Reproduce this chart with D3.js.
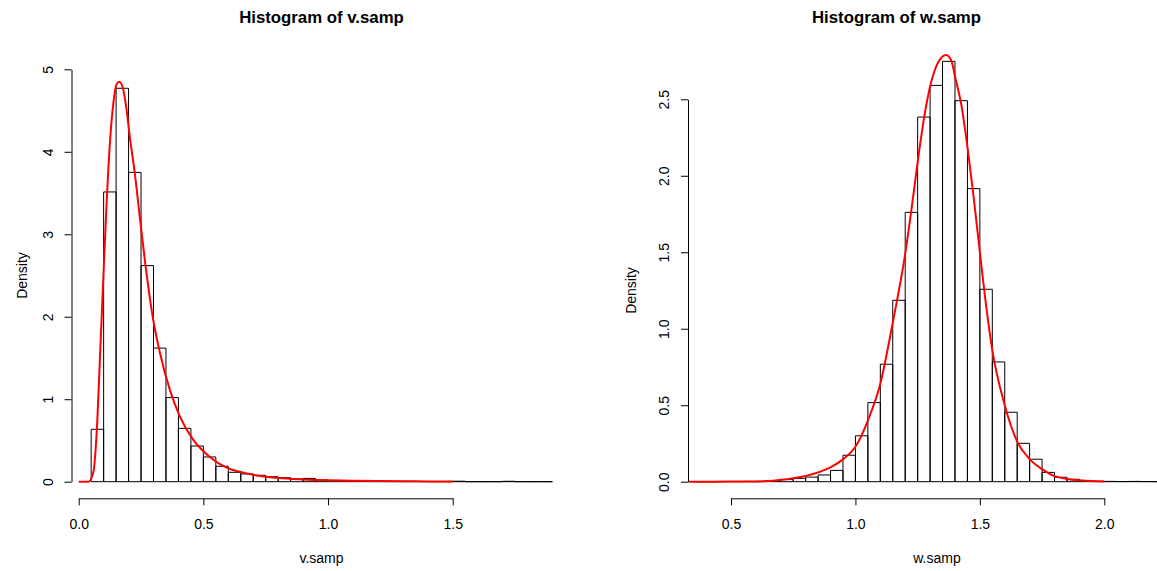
<!DOCTYPE html>
<html>
<head>
<meta charset="utf-8">
<script src="https://cdn.jsdelivr.net/npm/d3@7/dist/d3.min.js"></script>
<style>
  body { margin: 0; background: #fff; }
  svg text { font-family: "Liberation Sans", Arial, Helvetica, sans-serif; fill: #000; }
</style>
</head>
<body>
<svg id="chart" width="1157" height="571"></svg>
<script>
// ---------- data: v.samp ----------
const vBreaks = [0.05,0.10,0.15,0.20,0.25,0.30,0.35,0.40,0.45,0.50,0.55,0.60,0.65,0.70,0.75,0.80,0.85,0.90,0.95,1.00,
                 1.05,1.10,1.15,1.20,1.25,1.30,1.35,1.40,1.45,1.50,1.55,1.60,1.65,1.70,1.75,1.80,1.85,1.90];
const vDensity = [0.635,3.513,4.77,3.75,2.62,1.62,1.02,0.647,0.433,0.30,0.187,0.114,0.094,0.078,0.06,0.049,0.033,0.040,0.02,0.015,
                  0.012,0.010,0.008,0.006,0.005,0.004,0.003,0.002,0.002,0.006,0,0,0,0.005,0,0,0];
const vCurveX = [0,0.04,0.059,0.072,0.085,0.099,0.112,0.125,0.139,0.152,0.163,0.179,0.192,0.205,0.225,0.245,0.268,0.299,0.326,
                 0.366,0.406,0.459,0.526,0.593,0.66,0.727,0.8,0.9,1.0,1.1,1.2,1.3,1.4,1.5];
const vCurveY = [0,0,0.12,0.59,1.48,2.49,3.38,4.10,4.59,4.82,4.85,4.75,4.51,4.18,3.74,3.21,2.62,1.96,1.56,
                 1.11,0.79,0.51,0.30,0.17,0.11,0.07,0.045,0.028,0.018,0.012,0.008,0.005,0.003,0.002];
const vXTicks = [0.0,0.5,1.0,1.5];
const vXTickLabels = ["0.0","0.5","1.0","1.5"];
const vYTicks = [0,1,2,3,4,5];
const vYTickLabels = ["0","1","2","3","4","5"];

// ---------- data: w.samp ----------
const wBreaks = [0.35,0.40,0.45,0.50,0.55,0.60,0.65,0.70,0.75,0.80,0.85,0.90,0.95,1.00,1.05,1.10,1.15,1.20,1.25,1.30,
                 1.35,1.40,1.45,1.50,1.55,1.60,1.65,1.70,1.75,1.80,1.85,1.90,1.95,2.00,2.05,2.10,2.15,2.20,2.25,2.30];
const wDensity = [0,0,0.001,0.001,0.002,0.003,0.006,0.014,0.022,0.030,0.044,0.074,0.173,0.300,0.517,0.768,1.186,1.761,2.384,2.591,
                  2.748,2.491,1.916,1.258,0.783,0.454,0.251,0.147,0.061,0.029,0.016,0.006,0.003,0.002,0.001,0.002,0.001,0,0];
const wCurveX = [0.33,0.5,0.6,0.67,0.75,0.85,0.90,0.95,1.00,1.05,1.10,1.15,1.20,1.226,1.25,1.279,1.301,1.326,1.35,1.365,1.386,
                 1.40,1.426,1.45,1.475,1.50,1.526,1.55,1.60,1.65,1.70,1.75,1.80,1.85,1.90,1.95,2.0];
const wCurveY = [0,0.0005,0.002,0.007,0.022,0.061,0.094,0.146,0.229,0.40,0.64,1.04,1.49,1.79,2.09,2.41,2.59,2.72,2.78,2.79,2.75,
                 2.65,2.46,2.19,1.86,1.50,1.14,0.86,0.50,0.262,0.148,0.082,0.036,0.018,0.009,0.004,0.002];
const wXTicks = [0.5,1.0,1.5,2.0];
const wXTickLabels = ["0.5","1.0","1.5","2.0"];
const wYTicks = [0,0.5,1.0,1.5,2.0,2.5];
const wYTickLabels = ["0.0","0.5","1.0","1.5","2.0","2.5"];

const svg = d3.select("#chart");

function drawPanel(o) {
  const x = d3.scaleLinear().domain(o.xDomain).range(o.xRange);
  const y = d3.scaleLinear().domain(o.yDomain).range(o.yRange);
  const g = svg.append("g");

  // bars (as closed paths so zero-height bins still draw their base line)
  const bins = o.density.map((d, i) => ({x0: o.breaks[i], x1: o.breaks[i + 1], d}));
  g.append("g").selectAll("path").data(bins).join("path")
    .attr("d", b => {
      const X0 = x(b.x0), X1 = x(b.x1), Y0 = y(0), Y1 = y(b.d);
      return `M${X0},${Y0}V${Y1}H${X1}V${Y0}Z`;
    })
    .attr("fill", "none")
    .attr("stroke", "#000")
    .attr("stroke-width", 1);

  // density curve
  const pts = o.curveX.map((cx, i) => [cx, o.curveY[i]]);
  g.append("path")
    .datum(pts)
    .attr("d", d3.line().x(p => x(p[0])).y(p => y(p[1])).curve(d3.curveMonotoneX))
    .attr("fill", "none")
    .attr("stroke", "#ff0000")
    .attr("stroke-width", 2);

  // x axis
  const xa = g.append("g")
    .attr("transform", `translate(0,${o.xAxisY})`)
    .call(d3.axisBottom(x).tickValues(o.xTicks).tickSize(7).tickSizeOuter(0)
      .tickFormat((d, i) => o.xTickLabels[i]));
  xa.select(".domain").attr("stroke", "#000");
  xa.selectAll(".tick line").attr("stroke", "#000");
  xa.selectAll(".tick text")
    .attr("y", 31).attr("dy", 0)
    .attr("font-size", 14)
    .attr("font-family", null);

  // y axis
  const ya = g.append("g")
    .attr("transform", `translate(${o.yAxisX},0)`)
    .call(d3.axisLeft(y).tickValues(o.yTicks).tickSize(7).tickSizeOuter(0)
      .tickFormat((d, i) => o.yTickLabels[i]));
  ya.select(".domain").attr("stroke", "#000");
  ya.selectAll(".tick line").attr("stroke", "#000");
  ya.selectAll(".tick text")
    .attr("x", 0).attr("dy", 0).attr("y", -19)
    .attr("transform", "rotate(-90)")
    .attr("text-anchor", "middle")
    .attr("font-size", 14)
    .attr("font-family", null);

  // title
  g.append("text")
    .attr("x", o.titleX).attr("y", 23)
    .attr("text-anchor", "middle")
    .attr("font-size", 16.8)
    .attr("font-weight", "bold")
    .text(o.title);

  // x label
  g.append("text")
    .attr("x", o.xlabX).attr("y", 563)
    .attr("text-anchor", "middle")
    .attr("font-size", 14)
    .text(o.xlab);

  // y label
  g.append("text")
    .attr("transform", `translate(${o.ylabX},${(o.yRange[0] + o.yRange[1]) / 2}) rotate(-90)`)
    .attr("text-anchor", "middle")
    .attr("font-size", 14)
    .text("Density");
}

drawPanel({
  breaks: vBreaks, density: vDensity, curveX: vCurveX, curveY: vCurveY,
  xTicks: vXTicks, xTickLabels: vXTickLabels, yTicks: vYTicks, yTickLabels: vYTickLabels,
  xDomain: [0, 1.5], xRange: [78.7, 452.7],
  yDomain: [0, 5], yRange: [481.7, 69.3],
  xAxisY: 498.3, yAxisX: 71.5,
  title: "Histogram of v.samp", titleX: 321.5,
  xlab: "v.samp", xlabX: 321.5, ylabX: 27
});

drawPanel({
  breaks: wBreaks, density: wDensity, curveX: wCurveX, curveY: wCurveY,
  xTicks: wXTicks, xTickLabels: wXTickLabels, yTicks: wYTicks, yTickLabels: wYTickLabels,
  xDomain: [0.5, 2.0], xRange: [731, 1104.3],
  yDomain: [0, 2.5], yRange: [481.7, 99.3],
  xAxisY: 498.3, yAxisX: 688,
  title: "Histogram of w.samp", titleX: 896.5,
  xlab: "w.samp", xlabX: 937, ylabX: 636
});
</script>
</body>
</html>
